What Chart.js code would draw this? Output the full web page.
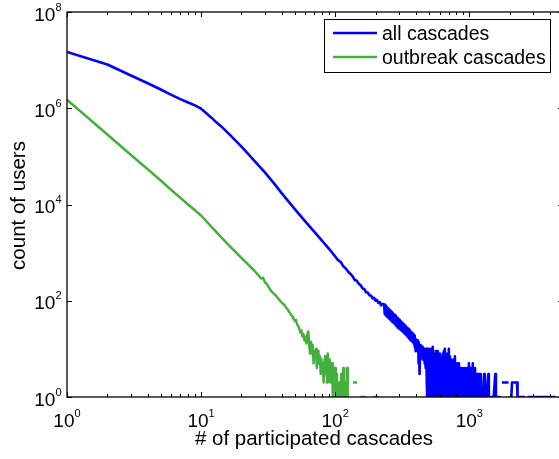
<!DOCTYPE html>
<html>
<head>
<meta charset="utf-8">
<script src="https://cdn.jsdelivr.net/npm/chart.js@4.4.1/dist/chart.umd.min.js"></script>
<style>
  html, body { margin: 0; padding: 0; background: #fff; overflow: hidden; }
  #wrap { width: 575px; height: 459px; }
</style>
</head>
<body>
<div id="wrap"><canvas id="usersChart" width="575" height="459"></canvas></div>
<script>
// all cascades: smooth head of the distribution
const allHeadCounts = [
  1, 2, 3, 4, 5, 6, 7, 8, 9, 10, 11, 12, 13, 14, 16, 18, 20, 22, 25, 30, 35, 40, 50, 60, 70, 80, 90,
  100, 105, 110, 115, 120, 125, 130, 135, 140, 145, 150, 155, 160, 165, 170, 175, 180, 185, 190, 195,
  200, 205, 210, 215, 220, 226
];
const allHeadUsers = [
  14800000, 8100000, 4800000, 3300000, 2450000, 1900000, 1550000, 1320000, 1150000, 980000, 780000,
  630000, 510000, 430000, 300000, 215000, 160000, 120000, 81000, 46000, 27500, 17000, 8000, 4400, 2700,
  1750, 1200,
  830, 700, 640, 520, 470, 400, 360, 320, 270, 260, 225, 210, 180, 175, 150, 148, 130, 128, 112, 115,
  100, 104, 90, 94, 80, 86
];
// all cascades: noisy band
const allBandCounts = [
  232, 234, 236, 238, 240, 242, 244, 246, 248, 250, 253, 255, 257, 259, 262, 264, 266, 268, 271, 273,
  275, 278, 280, 283, 285, 287, 290, 292, 295, 297, 300, 303, 305, 308, 311, 313, 316, 319, 321, 324,
  327, 330, 333, 335, 338, 341, 344, 347, 350, 353, 356, 359, 362, 365, 369, 372, 375, 378, 382, 385,
  388, 392, 395, 398, 402, 405, 409, 412, 416, 419, 423, 426, 430, 434, 438, 442, 446, 449, 453, 457,
  461, 465, 469, 473, 478, 482
];
const allBandUsers = [
  83, 54, 80, 50, 75, 48, 71, 46, 68, 44, 65, 42, 62, 40, 59, 38, 56, 36, 53, 35,
  51, 33, 49, 31, 46, 30, 44, 28, 42, 27, 40, 26, 38, 25, 36, 24, 34, 23, 33, 22,
  31, 21, 30, 20, 28, 19, 27, 18, 26, 17, 25, 16, 23, 15, 22, 15, 21, 14, 20, 13,
  19, 11, 16, 9, 14, 10, 15, 9, 14, 5, 9, 3, 12, 8, 11, 7, 11, 6, 10, 6,
  10, 5, 9, 4, 10, 2
];
// all cascades: dense region touching the bottom
const allDenseCounts = [
  486, 490, 494, 498, 503, 507, 512, 516, 521, 525, 530, 534, 539, 543, 548, 553, 558, 562, 567, 572,
  577, 582, 587, 592, 598, 603, 608, 613, 619, 624, 629, 635, 640, 646, 652, 657, 663, 669, 675, 680,
  686, 692, 698, 704, 710, 716, 723, 729, 735, 741, 748, 754, 761, 768, 775, 781, 788, 795, 802, 809,
  816, 823, 830, 837, 844, 851, 859, 866, 874, 881, 889, 897, 905, 912, 920, 928, 936, 944, 953, 961,
  969, 977, 986, 994, 1003, 1012, 1021, 1030, 1039, 1048, 1057, 1066, 1075, 1084, 1094, 1103, 1113, 1122,
  1132, 1142, 1152, 1162, 1172, 1182, 1193, 1203, 1213, 1223, 1234
];
const allDenseUsers = [
  1, 10, 1, 9, 1, 10, 1, 8, 1, 10, 1, 11, 1, 8, 1, 7, 1, 9, 1, 8,
  1, 9, 1, 7, 1, 8, 1, 6, 1, 7, 1, 8, 1, 9, 1, 10, 1, 8, 1, 7,
  1, 8, 1, 10, 1, 7, 1, 5, 1, 6, 1, 5, 1, 6, 1, 7, 1, 5, 1, 4,
  1, 5, 1, 5, 1, 4, 1, 4, 1, 3, 1, 4, 1, 3, 1, 4, 1, 3, 1, 4,
  1, 3, 1, 5, 1, 3, 1, 4, 1, 3, 1, 5, 1, 3, 1, 4, 1, 2,
  1, 3, 1, 2, 1, 3, 1, 2, 1, 3, 1
];
// all cascades: sparse tail (null = no users, line breaks)
const allTailCounts = [
  1250, 1275, 1290, 1305, 1340, 1387, 1400, 1470, 1520, 1563, 1580, 1650, 1720, 1740, 1750, 1800, 1850,
  1900, 1963, 1980, 2000, 2060, 2083, 2180, 2270, 2290, 2400, 2500, 2600, 2640, 2650, 2680, 2700, 2720,
  2900, 3200, 3500, 3900, 4400
];
const allTailUsers = [
  1, 1, 3, 1, 1, 3, 1, 1, 1, 3, 1, 1, 1, null, 2, 2, 2,
  2, 2, null, 1, 1, 2, 2, 2, 1, 1, 1, 1, null, 2, 2, null, 1,
  1, 1, 1, 1, 1
];

// outbreak cascades
const outbreakCounts = [
  1, 2, 3, 4, 5, 6, 7, 8, 9, 10, 12, 14, 16, 18, 20, 22, 25, 27, 28, 29, 30, 31, 33, 35, 36, 38, 40, 42, 43,
  44, 45, 46, 47, 48, 49, 50, 51, 52, 53, 54, 55, 56, 57, 58, 59, 60, 61, 62, 63, 64, 65, 66, 67, 68, 69,
  70, 71, 72, 73, 74, 75, 76, 77, 78, 79, 80, 81, 82, 83, 84, 85, 86, 87, 88, 89, 90, 91, 92, 93, 94, 95,
  96, 97, 98, 99, 100, 101, 102, 103, 104, 105, 106, 107, 108, 109, 110, 111, 112, 113, 114, 115, 116, 117,
  119, 120, 121, 122, 123, 124, 125,
  136, 140, 146, 147, 154, 160, 168, 170, 192, 200, 210, 212, 465, 475
];
const outbreakUsers = [
  1500000, 285000, 107000, 54000, 31500, 20000, 13800, 10000, 7600, 5900, 3400, 2150, 1450, 1050, 780,
  600, 420, 330, 290, 300, 240, 220, 165, 138, 130, 107, 91, 80, 72,
  68, 60, 56, 50, 48, 42, 38, 40, 32, 30, 26, 22, 24, 18, 20, 15, 18, 13, 20, 23, 12, 8, 14, 10, 12, 5,
  9, 7, 10, 4, 6, 9, 5, 7, 3, 6, 4, 5, 2, 5, 7, 3, 5, 2, 8, 4, 3, 6, 2, 4, 3, 5,
  1, 2, 4, 3, 4, 1, 3, 1, 2, 1, 1, 2, 1, null, 1, 3, 1, null, 1, 4, 1, null,
  1, 2, 1, 4, 4, 1, null,
  2, 2, 2, null, 1, 1, 1, null, 1, 1, 1, null, 1, 1
];

const seriesNames = ['all cascades', 'outbreak cascades'];
const xTickPowers = [0, 1, 2, 3];
const yTickPowers = [0, 2, 4, 6, 8];

const FONT = "'Liberation Sans', Arial, Helvetica, sans-serif";

const allCounts = [].concat(allHeadCounts, allBandCounts, allDenseCounts, allTailCounts);
const allUsers = [].concat(allHeadUsers, allBandUsers, allDenseUsers, allTailUsers);

function toPoints(xs, ys) {
  return xs.map((c, i) => ({ x: c, y: ys[i] }));
}

// "10" with a raised exponent, like MATLAB tick labels
function powLabel(ctx, power, x, baseY, align) {
  const base = '10', sup = String(power);
  ctx.font = '19px ' + FONT;
  const wb = ctx.measureText(base).width;
  ctx.font = '11px ' + FONT;
  const ws = ctx.measureText(sup).width;
  const left = align === 'center' ? x - (wb + ws) / 2 : x - wb - ws;
  ctx.textAlign = 'left';
  ctx.textBaseline = 'alphabetic';
  ctx.font = '19px ' + FONT;
  ctx.fillText(base, left, baseY);
  ctx.font = '11px ' + FONT;
  ctx.fillText(sup, left + wb, baseY - 10);
}

const matlabAxes = {
  id: 'matlabAxes',
  afterDatasetsDraw(chart) {
    const { ctx, chartArea: a } = chart;
    const xs = chart.scales.x, ys = chart.scales.y;
    ctx.save();
    ctx.strokeStyle = '#000';
    ctx.lineWidth = 1.3;
    ctx.strokeRect(a.left, a.top, a.right - a.left, a.bottom - a.top);

    ctx.lineWidth = 1;
    ctx.beginPath();
    xTickPowers.forEach(p => {
      for (let m = 1; m <= 9; m++) {
        const v = m * Math.pow(10, p);
        if (v > xs.max) break;
        const px = Math.round(xs.getPixelForValue(v)) + 0.5;
        const len = m === 1 ? 5 : 3;
        ctx.moveTo(px, a.bottom); ctx.lineTo(px, a.bottom - len);
        ctx.moveTo(px, a.top); ctx.lineTo(px, a.top + len);
      }
    });
    yTickPowers.forEach(p => {
      const py = Math.round(ys.getPixelForValue(Math.pow(10, p))) + 0.5;
      ctx.moveTo(a.left, py); ctx.lineTo(a.left + 5, py);
      ctx.moveTo(a.right, py); ctx.lineTo(a.right - 5, py);
    });
    ctx.stroke();

    ctx.fillStyle = '#000';
    xTickPowers.forEach(p => {
      powLabel(ctx, p, xs.getPixelForValue(Math.pow(10, p)), a.bottom + 29.5, 'center');
    });
    yTickPowers.forEach(p => {
      powLabel(ctx, p, a.left - 5.5, ys.getPixelForValue(Math.pow(10, p)) + 8.5, 'right');
    });

    // axis titles
    ctx.font = '20.5px ' + FONT;
    ctx.textAlign = 'center';
    ctx.textBaseline = 'alphabetic';
    ctx.fillText('# of participated cascades', (a.left + a.right) / 2 - 1, 445);
    ctx.save();
    ctx.translate(25, (a.top + a.bottom) / 2 + 1);
    ctx.rotate(-Math.PI / 2);
    ctx.fillText('count of users', 0, 0);
    ctx.restore();
    ctx.restore();
  },
  afterDraw(chart) {
    // boxed legend in the upper right corner
    const ctx = chart.ctx;
    ctx.save();
    ctx.fillStyle = '#fff';
    ctx.fillRect(324, 19, 226, 53);
    ctx.strokeStyle = '#000';
    ctx.lineWidth = 1;
    ctx.strokeRect(324.5, 19.5, 226, 53);
    chart.data.datasets.forEach((ds, i) => {
      const y = 33 + i * 24;
      ctx.strokeStyle = ds.borderColor;
      ctx.lineWidth = ds.borderWidth;
      ctx.beginPath();
      ctx.moveTo(333, y);
      ctx.lineTo(377, y);
      ctx.stroke();
      ctx.fillStyle = '#000';
      ctx.font = '19.5px ' + FONT;
      ctx.textAlign = 'left';
      ctx.textBaseline = 'alphabetic';
      ctx.fillText(ds.label, 382, y + 6.5);
    });
    ctx.restore();
  }
};

const ctx = document.getElementById('usersChart').getContext('2d');
new Chart(ctx, {
  type: 'line',
  data: {
    datasets: [
      {
        label: seriesNames[0],
        data: toPoints(allCounts, allUsers),
        borderColor: '#0000ff',
        borderWidth: 2.6,
        pointRadius: 0,
        borderJoinStyle: 'round',
        spanGaps: false,
        tension: 0
      },
      {
        label: seriesNames[1],
        data: toPoints(outbreakCounts, outbreakUsers),
        borderColor: '#46b03e',
        borderWidth: 2.5,
        pointRadius: 0,
        borderJoinStyle: 'round',
        spanGaps: false,
        tension: 0
      }
    ]
  },
  options: {
    responsive: false,
    animation: false,
    devicePixelRatio: 1,
    layout: { padding: { top: 12, right: 12, left: 0, bottom: 0 } },
    plugins: { legend: { display: false }, tooltip: { enabled: false } },
    scales: {
      x: {
        type: 'logarithmic',
        min: 1,
        max: 5000,
        grid: { display: false },
        border: { display: false },
        ticks: { display: false },
        afterFit(scale) { scale.height = 62; }
      },
      y: {
        type: 'logarithmic',
        min: 1,
        max: 100000000,
        grid: { display: false },
        border: { display: false },
        ticks: { display: false },
        afterFit(scale) { scale.width = 67; }
      }
    }
  },
  plugins: [matlabAxes]
});
</script>
</body>
</html>
